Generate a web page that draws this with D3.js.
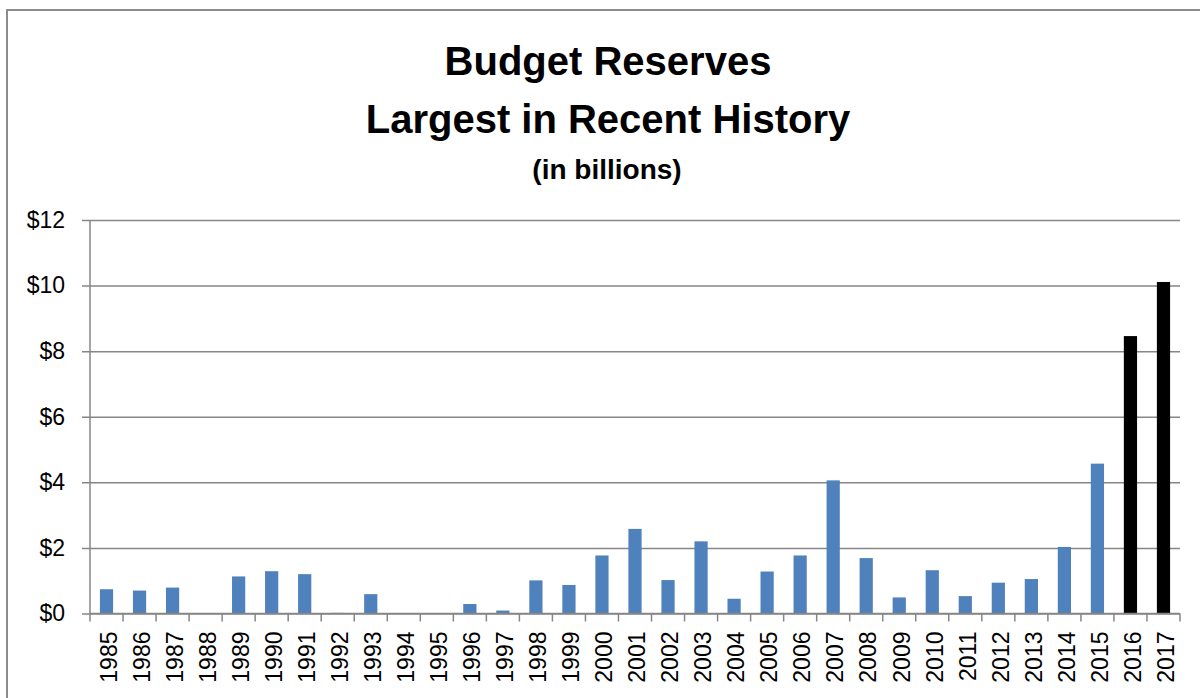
<!DOCTYPE html>
<html>

<head>
    <meta charset="utf-8">
    <script src="https://cdn.jsdelivr.net/npm/d3@7"></script>
    <style>
        body { margin: 0; background: #fff; }
        text { font-family: "Liberation Sans", Arial, sans-serif; }
    </style>
</head>

<body>
    <svg class="MainSvg"></svg>
</body>
<script>
    // years shown on the x axis
    var years = ["1985", "1986", "1987", "1988", "1989", "1990", "1991", "1992", "1993", "1994",
        "1995", "1996", "1997", "1998", "1999", "2000", "2001", "2002", "2003", "2004",
        "2005", "2006", "2007", "2008", "2009", "2010", "2011", "2012", "2013", "2014",
        "2015", "2016", "2017"];
    // reserves in billions
    var reserves = [0.74, 0.70, 0.79, 0, 1.13, 1.29, 1.20, 0.02, 0.59, 0.01,
        0, 0.29, 0.09, 1.01, 0.87, 1.77, 2.58, 1.02, 2.20, 0.45,
        1.28, 1.77, 4.06, 1.69, 0.49, 1.32, 0.53, 0.94, 1.05, 2.03,
        4.57, 8.46, 10.11];
    // the last two years are drawn in black
    var highlighted = ["2016", "2017"];
    var yTicks = [0, 2, 4, 6, 8, 10, 12];
    var titleLines = ["Budget Reserves", "Largest in Recent History"];
    var subtitle = "(in billions)";

    var width = 1200, height = 698;
    var margin = { top: 220, right: 20, bottom: 84, left: 90 };

    var data = years.map(function (y, i) { return { year: y, value: reserves[i] }; });

    function creatMainSvg() {
        var svg = d3.select(".MainSvg")
            .attr("width", width)
            .attr("height", height);

        // chart frame
        svg.append("path")
            .attr("d", "M7," + height + " V10 H" + width)
            .attr("fill", "none")
            .attr("stroke", "#8c8c8c")
            .attr("stroke-width", 2);

        var x = d3.scaleBand()
            .domain(years)
            .range([margin.left, 1180])
            .paddingInner(0.6)
            .paddingOuter(0.3);

        var y = d3.scaleLinear()
            .domain([0, 12])
            .range([613.5, margin.top]);

        // gridlines + y axis
        var yAxis = d3.axisLeft(y)
            .tickValues(yTicks)
            .tickSize(-(1180 - margin.left))
            .tickPadding(25)
            .tickFormat(function (d) { return "$" + d; });

        var gy = svg.append("g")
            .attr("transform", "translate(" + margin.left + ",0)")
            .call(yAxis);
        gy.select(".domain").remove();
        gy.selectAll(".tick line")
            .attr("x1", -8)
            .attr("stroke", "#868686")
            .attr("stroke-width", 1.5);
        gy.selectAll(".tick text")
            .attr("x", -25)
            .attr("font-size", 23)
            .attr("fill", "#000");

        svg.append("line")
            .attr("x1", margin.left).attr("x2", margin.left)
            .attr("y1", y(12)).attr("y2", y(0))
            .attr("stroke", "#868686")
            .attr("stroke-width", 1.5);

        // bars
        svg.append("g").selectAll("rect")
            .data(data)
            .enter()
            .append("rect")
            .attr("x", function (d) { return x(d.year); })
            .attr("width", x.bandwidth())
            .attr("y", function (d) { return y(d.value); })
            .attr("height", function (d) { return y(0) - y(d.value); })
            .attr("fill", function (d) { return highlighted.indexOf(d.year) >= 0 ? "#000" : "#4f81bd"; });

        // x axis: ticks sit on band boundaries
        var xb = d3.scaleLinear().domain([0, years.length]).range([margin.left, 1180]);
        var gx = svg.append("g")
            .attr("transform", "translate(0," + y(0) + ")");
        gx.append("line")
            .attr("x1", margin.left).attr("x2", 1180)
            .attr("stroke", "#868686").attr("stroke-width", 1.5);
        gx.selectAll(".bt")
            .data(d3.range(years.length + 1))
            .enter()
            .append("line")
            .attr("class", "bt")
            .attr("x1", function (d) { return xb(d); })
            .attr("x2", function (d) { return xb(d); })
            .attr("y1", 0).attr("y2", 8)
            .attr("stroke", "#868686").attr("stroke-width", 1.5);
        gx.selectAll(".lbl")
            .data(years)
            .enter()
            .append("text")
            .attr("class", "lbl")
            .attr("transform", function (d) {
                return "translate(" + (x(d) + x.bandwidth() / 2 + 2) + ",18) rotate(-90)";
            })
            .attr("text-anchor", "end")
            .attr("dy", "0.36em")
            .attr("font-size", 23)
            .text(function (d) { return d; });

        // titles
        var tl = svg.append("g").attr("text-anchor", "middle");
        tl.selectAll(".title")
            .data(titleLines)
            .enter()
            .append("text")
            .attr("class", "title")
            .attr("x", 608)
            .attr("y", function (d, i) { return 75 + i * 58; })
            .attr("font-size", 40)
            .attr("font-weight", "bold")
            .text(function (d) { return d; });
        tl.append("text")
            .attr("x", 607)
            .attr("y", 179)
            .attr("font-size", 28)
            .attr("font-weight", "bold")
            .text(subtitle);
    }
    creatMainSvg();
</script>

</html>
